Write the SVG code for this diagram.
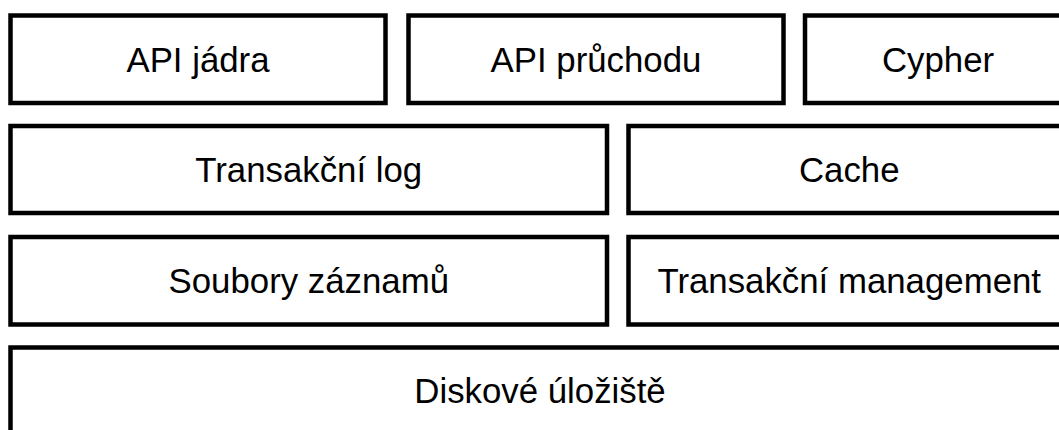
<svg xmlns="http://www.w3.org/2000/svg" width="1059" height="430" viewBox="0 0 1059 430">
  <style>
    .box { fill: #ffffff; stroke: #000000; stroke-width: 4.5; }
    .label { font-family: "Liberation Sans", Arial, sans-serif; font-size: 34.8px; fill: #000000; text-anchor: middle; }
  </style>
  <rect width="1059" height="430" fill="#ffffff"/>

  <!-- top layer: APIs -->
  <g id="api-jadra">
    <rect class="box" x="10.5" y="15.5" width="375" height="87.5"/>
    <text class="label" x="198" y="71.5">API jádra</text>
  </g>
  <g id="api-pruchodu">
    <rect class="box" x="408.5" y="15.5" width="375" height="87.5"/>
    <text class="label" x="596" y="71.5">API průchodu</text>
  </g>
  <g id="cypher">
    <rect class="box" x="805" y="15.5" width="266" height="87.5"/>
    <text class="label" x="938" y="71.5">Cypher</text>
  </g>

  <!-- second layer -->
  <g id="transakcni-log">
    <rect class="box" x="10.5" y="126" width="596.5" height="87"/>
    <text class="label" x="308.75" y="181.5">Transakční log</text>
  </g>
  <g id="cache">
    <rect class="box" x="628.5" y="126" width="441.5" height="87"/>
    <text class="label" x="849.25" y="181.5">Cache</text>
  </g>

  <!-- third layer -->
  <g id="soubory-zaznamu">
    <rect class="box" x="10.5" y="237" width="596.5" height="87.5"/>
    <text class="label" x="308.75" y="292.5">Soubory záznamů</text>
  </g>
  <g id="transakcni-management">
    <rect class="box" x="628.5" y="237" width="441.5" height="87.5"/>
    <text class="label" x="849.25" y="292.5">Transakční management</text>
  </g>

  <!-- storage layer -->
  <g id="diskove-uloziste">
    <rect class="box" x="10.5" y="347.5" width="1059.5" height="86"/>
    <text class="label" x="540" y="402.5">Diskové úložiště</text>
  </g>

  <g id="connectors"/>
</svg>
